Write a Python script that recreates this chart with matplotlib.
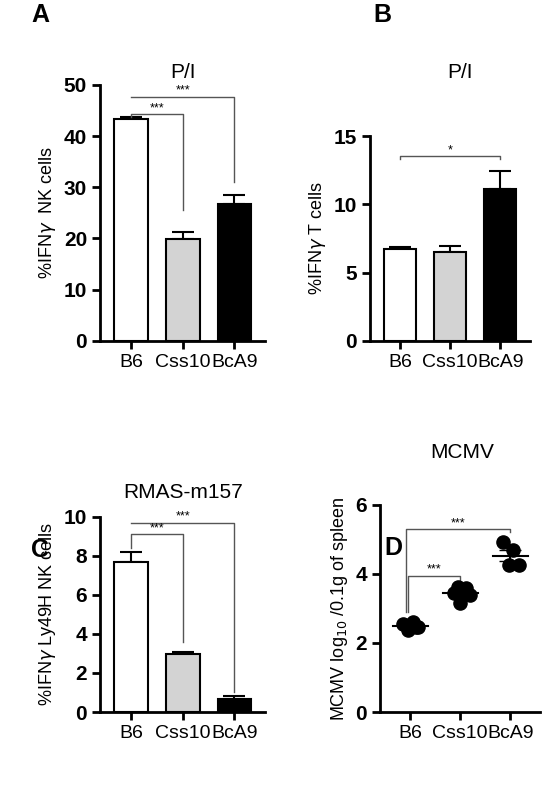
import matplotlib
matplotlib.use("Agg")
import matplotlib.pyplot as plt
import numpy as np

plt.rcParams['font.family'] = ['Liberation Sans', 'DejaVu Sans']

groups = ["B6", "Css10", "BcA9"]
colors = ["white", "#d3d3d3", "black"]

a_vals = [43.3, 19.8, 26.7]
a_err = [0.4, 1.4, 1.8]
b_vals = [6.7, 6.5, 11.1]
b_err = [0.2, 0.45, 1.3]
c_vals = [7.7, 2.95, 0.65]
c_err = [0.5, 0.12, 0.15]
d_b6 = [2.55, 2.45, 2.62, 2.38, 2.45]
d_css10 = [3.62, 3.58, 3.45, 3.4, 3.15, 3.5]
d_bca9 = [4.92, 4.7, 4.25, 4.25]

W, H = 554, 800
fig = plt.figure(figsize=(5.54, 8.0), dpi=100)

def style(ax, ymax, step, ylabel):
    ax.set_ylim(0, ymax)
    ax.set_yticks(np.arange(0, ymax + 0.001, step))
    ax.set_xlim(-0.6, 2.6)
    ax.set_xticks(range(3))
    ax.set_xticklabels(groups, fontsize=14)
    for s in ['top', 'right']:
        ax.spines[s].set_visible(False)
    for s in ['left', 'bottom']:
        ax.spines[s].set_linewidth(2)
    ax.tick_params(width=2, length=6)
    for t in ax.get_yticklabels():
        t.set_fontsize(15); t.set_fontweight('bold')
    ax.set_ylabel(ylabel, fontsize=13)

def label(x, y, letter, title, tx, ty):
    fig.text(x / W, 1 - y / H, letter, fontsize=18, fontweight='bold', ha='center', va='center')
    fig.text(tx / W, 1 - ty / H, title, fontsize=15, ha='center', va='center')

def bars(ax, vals, errs):
    ax.bar(range(3), vals, width=0.65, color=colors, edgecolor='black', linewidth=1.5, zorder=2)
    ax.errorbar(range(3), vals, yerr=[[0]*3, errs], fmt='none', ecolor='black', elinewidth=1.5, capsize=8, capthick=1.5, zorder=1)

def bracket(ax, x1, x2, y, y1, y2, txt):
    ax.plot([x1, x1, x2, x2], [y1, y, y, y2], color='#555555', lw=1)
    ax.text((x1 + x2) / 2, y, txt, ha='center', va='bottom', fontsize=9)

axA = fig.add_axes([0.181, 0.574, 0.298, 0.32])
bars(axA, a_vals, a_err)
style(axA, 50, 10, r'%IFN$\gamma$  NK cells')
bracket(axA, 0, 2, 47.7, 47.7, 31, '***')
bracket(axA, 0, 1, 44.3, 43.8, 25.5, '***')
label(40, 15, 'A', 'P/I', 183, 72)

axB = fig.add_axes([0.668, 0.574, 0.289, 0.256])
bars(axB, b_vals, b_err)
style(axB, 15, 5, r'%IFN$\gamma$ T cells')
bracket(axB, 0, 2, 13.5, 13.3, 13.3, '*')
label(382, 15, 'B', 'P/I', 460, 72)

axC = fig.add_axes([0.181, 0.11, 0.298, 0.244])
bars(axC, c_vals, c_err)
style(axC, 10, 2, r'%IFN$\gamma$ Ly49H NK cells')
bracket(axC, 0, 2, 9.7, 9.7, 1.0, '***')
bracket(axC, 0, 1, 9.1, 8.4, 3.6, '***')
label(40, 550, 'C', 'RMAS-m157', 183, 493)

axD = fig.add_axes([0.686, 0.11, 0.289, 0.259])
offs = {0: [-0.15, 0.12, 0.05, -0.05, 0.15], 1: [-0.05, 0.12, -0.12, 0.2, 0.0, 0.05], 2: [-0.15, 0.05, -0.02, 0.18]}
for i, d in enumerate([d_b6, d_css10, d_bca9]):
    xs = [i + o for o in offs[i]]
    axD.scatter(xs, d, s=90, color='black', zorder=3)
    m = np.mean(d); se = np.std(d, ddof=1) / np.sqrt(len(d))
    axD.plot([i - 0.35, i + 0.35], [m, m], color='black', lw=1.5)
    axD.errorbar([i], [m], yerr=se, fmt='none', ecolor='black', elinewidth=1.5, capsize=8)
style(axD, 6, 2, r'MCMV log$_{10}$ /0.1g of spleen')
bracket(axD, -0.08, 2, 5.3, 2.9, 5.2, '***')
bracket(axD, -0.04, 1, 3.95, 2.9, 3.8, '***')
label(393, 548, 'D', 'MCMV', 462, 453)

fig.savefig('out.png', dpi=100)
